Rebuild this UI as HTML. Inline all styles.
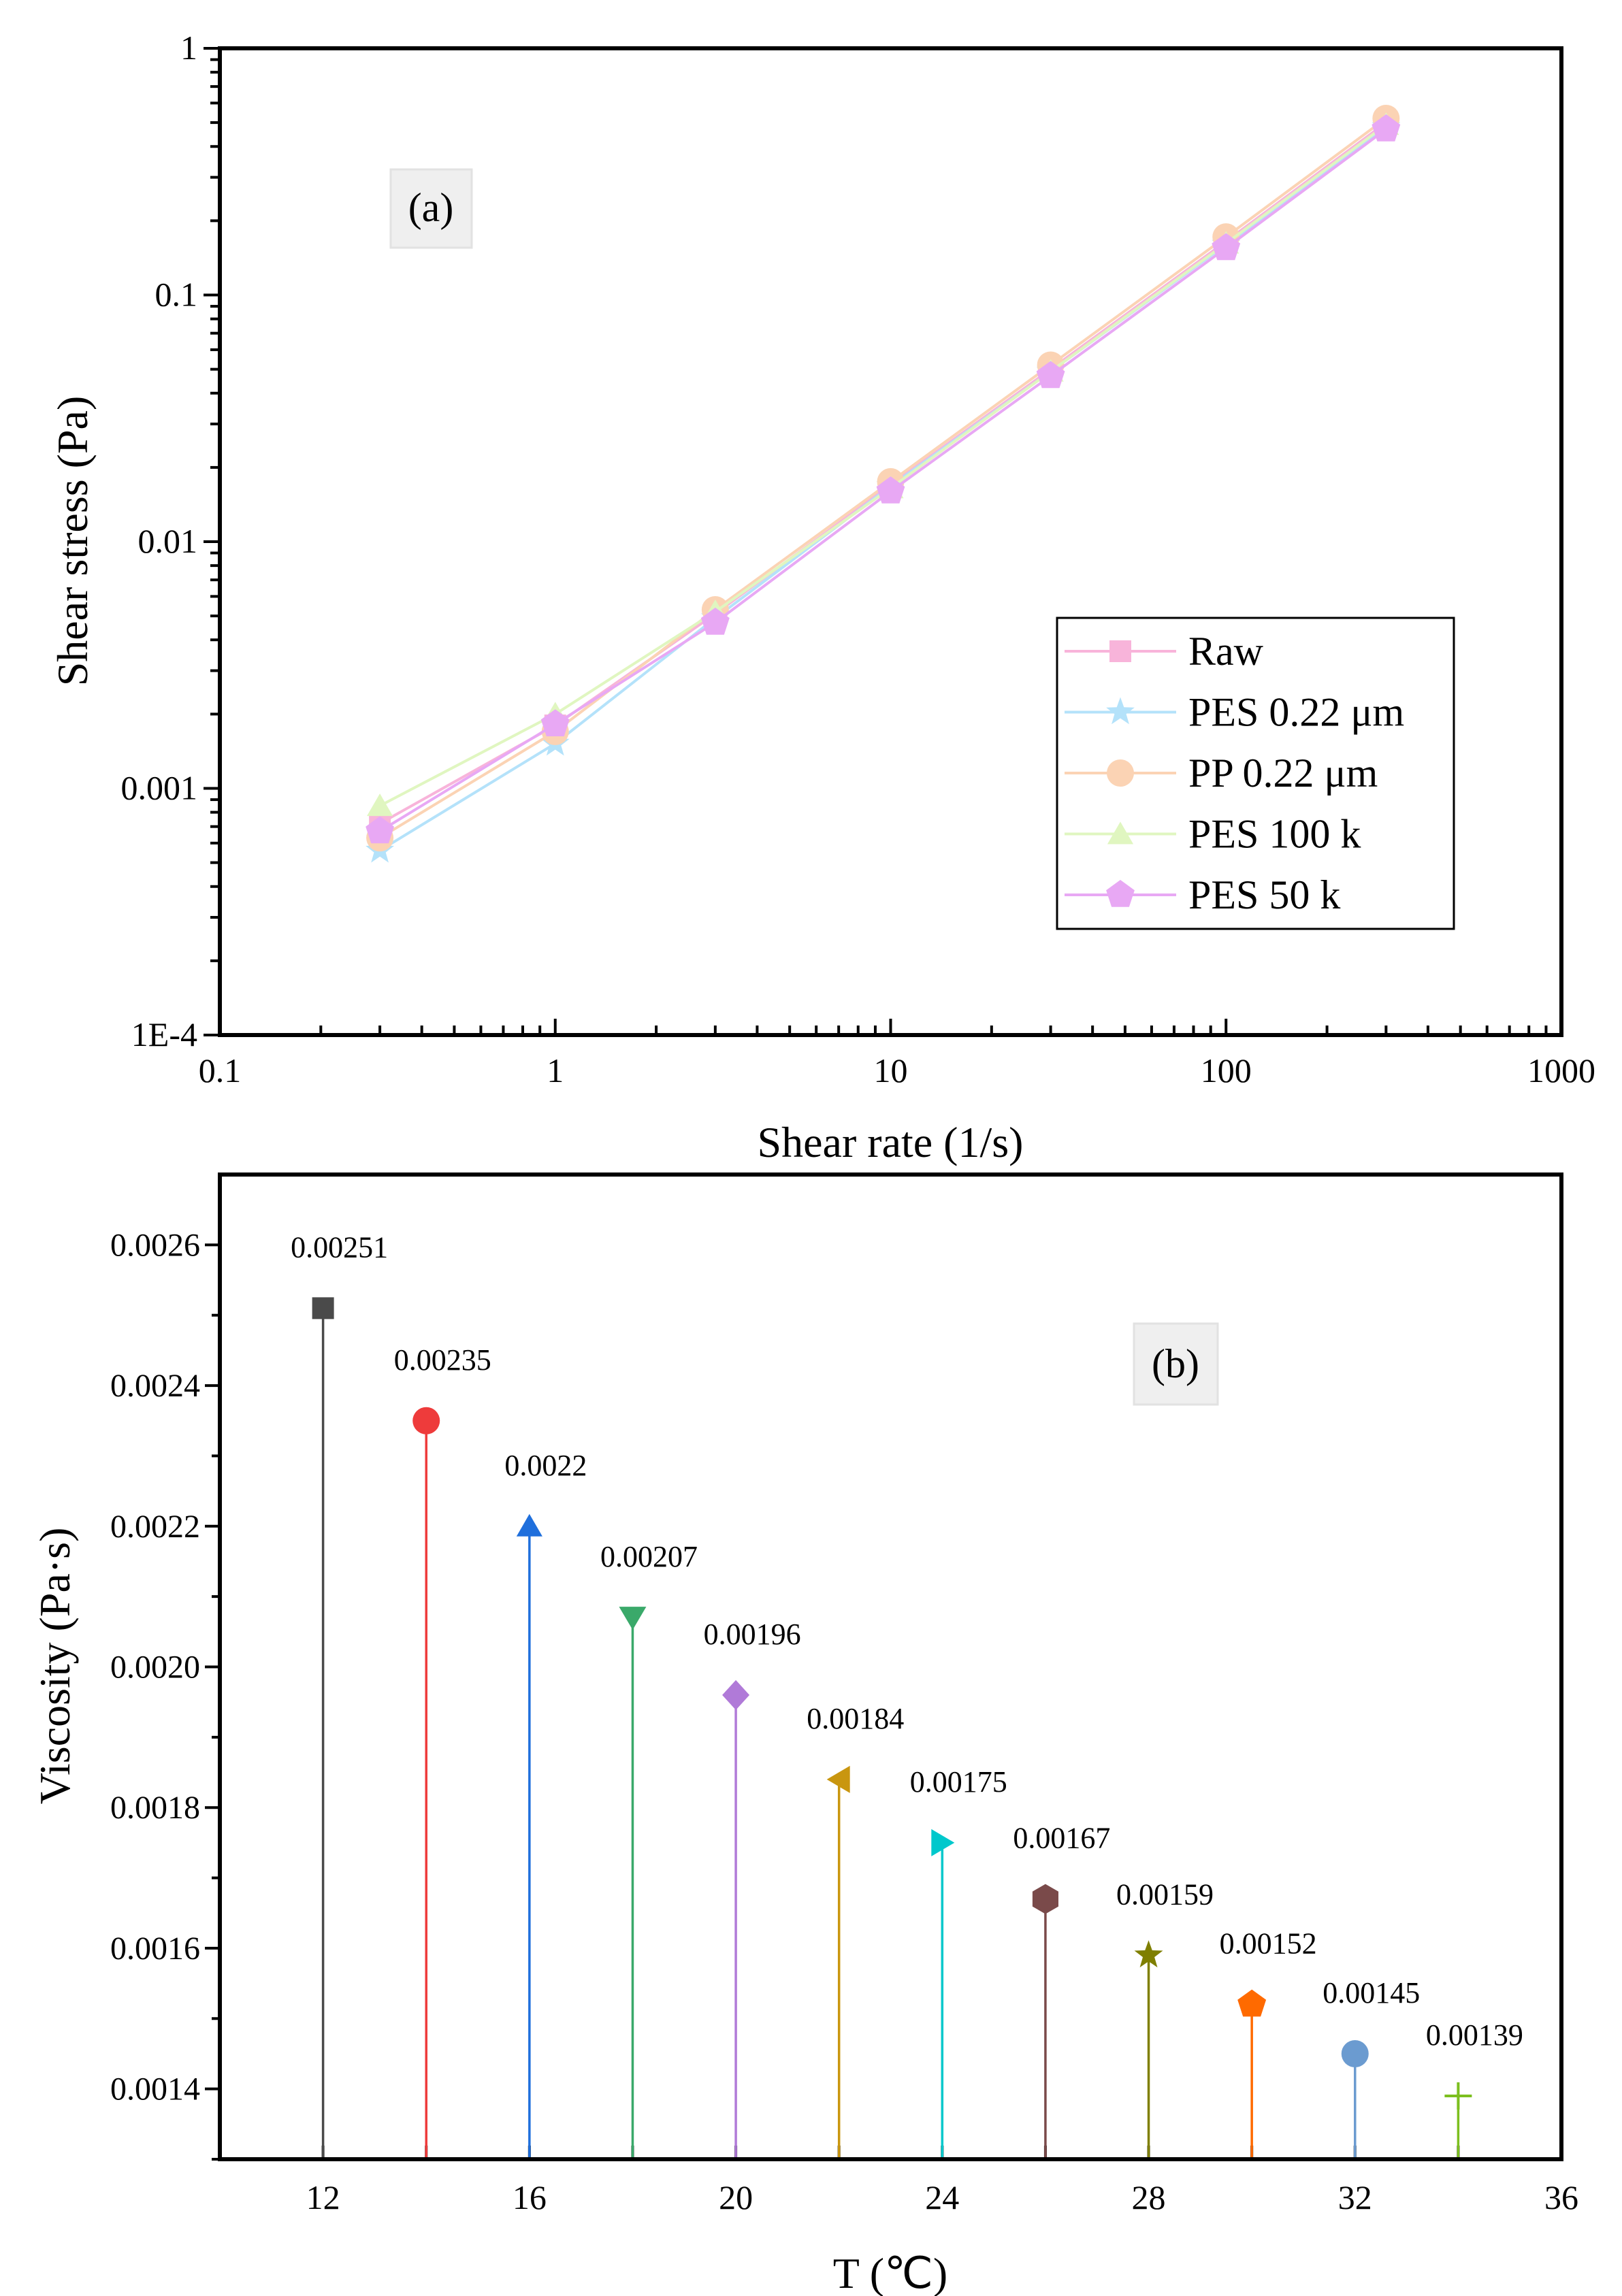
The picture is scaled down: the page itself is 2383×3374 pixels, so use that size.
<!DOCTYPE html>
<html><head><meta charset="utf-8"><style>
body{margin:0;background:#fff}
svg{display:block;font-family:"Liberation Serif",serif}
</style></head><body>
<svg id="c" width="2383" height="3374" viewBox="0 0 2383 3374">
<g id="pa"></g>
<g id="pb"></g>
</svg>
<script>
const shearRates=[0.3,1,3,10,30,100,300];
const seriesNames=["Raw","PES 0.22 μm","PP 0.22 μm","PES 100 k","PES 50 k"];
const rawVals=[0.00072,0.0018,0.0051,0.017,0.05,0.165,0.5];
const pes022Vals=[0.00056,0.00152,0.0049,0.0168,0.049,0.16,0.48];
const pp022Vals=[0.00063,0.0017,0.0053,0.0175,0.052,0.172,0.52];
const pes100Vals=[0.00085,0.002,0.0052,0.0165,0.049,0.162,0.49];
const pes50Vals=[0.00067,0.00182,0.0047,0.016,0.047,0.155,0.47];
const xTickLabelsA=["0.1","1","10","100","1000"];
const yTickLabelsA=["1E-4","0.001","0.01","0.1","1"];
const temps=[12,14,16,18,20,22,24,26,28,30,32,34];
const viscVals=[0.00251,0.00235,0.0022,0.00207,0.00196,0.00184,0.00175,0.00167,0.00159,0.00152,0.00145,0.00139];
const viscLabels=["0.00251","0.00235","0.0022","0.00207","0.00196","0.00184","0.00175","0.00167","0.00159","0.00152","0.00145","0.00139"];
const xTicksB=[12,16,20,24,28,32,36];
const yTicksB=["0.0014","0.0016","0.0018","0.0020","0.0022","0.0024","0.0026"];

const NS="http://www.w3.org/2000/svg";
function mk(p,t,a,txt){const e=document.createElementNS(NS,t);for(const k in a)e.setAttribute(k,a[k]);if(txt!==undefined)e.textContent=txt;p.appendChild(e);return e;}

// ---------- Panel A ----------
const A=document.getElementById('pa');
const L=323,R=2294,T=71,B=1521;
const xA=v=>L+(Math.log10(v)+1)/4*(R-L);
const yA=v=>B-(Math.log10(v)+4)/4*(B-T);
// minor ticks
for(let d=-1;d<3;d++)for(let m=2;m<10;m++){const x=xA(m*Math.pow(10,d));let e=mk(A,'line',{x1:x,x2:x,y1:B,y2:B-14,stroke:'#000','stroke-width':4});
}
for(let d=-4;d<0;d++)for(let m=2;m<10;m++){const y=yA(m*Math.pow(10,d));let e=mk(A,'line',{x1:L,x2:L-14,y1:y,y2:y,stroke:'#000','stroke-width':4});
}
xTickLabelsA.forEach((s,i)=>{const x=xA(parseFloat(s));let t=mk(A,'line',{x1:x,x2:x,y1:B,y2:B-24,stroke:'#000','stroke-width':4});

let e=mk(A,'text',{x:x,y:1590,'font-size':50,'text-anchor':'middle'},s);
});
yTickLabelsA.forEach((s,i)=>{const y=yA(parseFloat(s));let t=mk(A,'line',{x1:L,x2:L-24,y1:y,y2:y,stroke:'#000','stroke-width':4});

let e=mk(A,'text',{x:290,y:y+16,'font-size':50,'text-anchor':'end'},s);
});
let fa=mk(A,'rect',{x:L,y:T,width:R-L,height:B-T,fill:'none',stroke:'#000','stroke-width':6});

let xt=mk(A,'text',{x:1308,y:1700,'font-size':64,'text-anchor':'middle'},'Shear rate (1/s)');

let yt=mk(A,'text',{x:0,y:0,'font-size':64,'text-anchor':'middle',transform:'translate(128,795) rotate(-90)'},'Shear stress (Pa)');

let lb=mk(A,'rect',{x:574,y:249,width:119,height:115,fill:'#efefef',stroke:'#e2e2e2','stroke-width':3});

let lt=mk(A,'text',{x:633,y:325,'font-size':60,'text-anchor':'middle'},'(a)');


const colors=["#f8b4da","#b4e2fa","#fbd3b4","#e0f6c0","#e8a8f4"];
const shapes=["square","star","circle","triangle","pentagon"];
function marker(p,shape,x,y,r,col){
  let e;
  if(shape==="square")e=mk(p,'rect',{x:x-r*0.8,y:y-r*0.8,width:r*1.6,height:r*1.6,fill:col});
  else if(shape==="circle")e=mk(p,'circle',{cx:x,cy:y,r:r,fill:col});
  else{let n=shape==="triangle"?3:shape==="pentagon"?5:shape==="hexagon"?6:5;let pts=[];
    if(shape==="star"){for(let i=0;i<10;i++){const a=-Math.PI/2+i*Math.PI/5;const rr=i%2?r*0.45:r*1.1;pts.push((x+rr*Math.cos(a)).toFixed(1)+','+(y+rr*Math.sin(a)).toFixed(1));}}
    else{let off=shape==="hexagon"?-Math.PI/2:-Math.PI/2;for(let i=0;i<n;i++){const a=off+i*2*Math.PI/n;pts.push((x+r*1.1*Math.cos(a)).toFixed(1)+','+(y+r*1.1*Math.sin(a)+(n===3?r*0.2:0)).toFixed(1));}}
    e=mk(p,'polygon',{points:pts.join(' '),fill:col});}
  return e;
}
const allSeries=[rawVals,pes022Vals,pp022Vals,pes100Vals,pes50Vals];
allSeries.forEach((vals,s)=>{
  const d=vals.map((v,i)=>(i?'L':'M')+xA(shearRates[i]).toFixed(1)+','+yA(v).toFixed(1)).join('');
  let ln=mk(A,'path',{d:d,fill:'none',stroke:colors[s],'stroke-width':4});
  
  vals.forEach((v,i)=>{let m=marker(A,shapes[s],xA(shearRates[i]),yA(v),20,colors[s]);
    });
});
let lg=mk(A,'rect',{x:1553,y:908,width:583,height:457,fill:'#fff',stroke:'#000','stroke-width':3});

seriesNames.forEach((n,s)=>{const y=957+s*89.5;
  let l=mk(A,'line',{x1:1564,x2:1728,y1:y,y2:y,stroke:colors[s],'stroke-width':4});
  
  let m=marker(A,shapes[s],1646,y,20,colors[s]);
  
  let t=mk(A,'text',{x:1746,y:y+20,'font-size':60},n);
  });

// ---------- Panel B ----------
const P=document.getElementById('pb');
const L2=323,R2=2294,T2=1726,B2=3173;
const xB=v=>L2+(v-10)/26*(R2-L2);
const yB=v=>B2-(v-0.0013)/0.0014*(B2-T2);
for(let k=0;k<14;k++){const v=0.0013+k*0.0001;const y=yB(v);const major=(k%2===1);
  let t=mk(P,'line',{x1:L2,x2:L2-(major?22:12),y1:y,y2:y,stroke:'#000','stroke-width':4});
  }
yTicksB.forEach(s=>{const y=yB(parseFloat(s));
  let e=mk(P,'text',{x:294,y:y+16,'font-size':48,'text-anchor':'end'},s);
  });
for(let v=12;v<=34;v+=2){const x=xB(v);let t=mk(P,'line',{x1:x,x2:x,y1:B2,y2:B2-20,stroke:'#000','stroke-width':4});
  }
xTicksB.forEach(v=>{let e=mk(P,'text',{x:xB(v),y:3246,'font-size':50,'text-anchor':'middle'},String(v));
  });
const bcol=["#4a4a4a","#ee3b3b","#1f6fdc","#3aa96a","#b07ad8","#c9960f","#00c8cc","#7a4a4a","#7f7f00","#ff6a00","#6b9bd0","#7cbf1f"];
const bshape=["square","circle","triangle","down","diamond","left","right","hexagon","star","pentagon","circle","plus"];
temps.forEach((tv,i)=>{const x=xB(tv),y=yB(viscVals[i]),c=bcol[i];
  let st=mk(P,'line',{x1:x,x2:x,y1:B2,y2:y,stroke:c,'stroke-width':3.5});
  
  let m,sh=bshape[i],r=20;
  if(sh==="down")m=mk(P,'polygon',{points:`${x-r},${y-r*0.8} ${x+r},${y-r*0.8} ${x},${y+r*0.9}`,fill:c});
  else if(sh==="diamond")m=mk(P,'polygon',{points:`${x},${y-r*1.1} ${x+r},${y} ${x},${y+r*1.1} ${x-r},${y}`,fill:c});
  else if(sh==="left")m=mk(P,'polygon',{points:`${x-r*0.9},${y} ${x+r*0.8},${y-r} ${x+r*0.8},${y+r}`,fill:c});
  else if(sh==="right")m=mk(P,'polygon',{points:`${x+r*0.9},${y} ${x-r*0.8},${y-r} ${x-r*0.8},${y+r}`,fill:c});
  else if(sh==="plus")m=mk(P,'path',{d:`M${x-r},${y}H${x+r}M${x},${y-r}V${y+r}`,stroke:c,'stroke-width':4});
  else m=marker(P,sh,x,y,r,c);
  
  let lbl=mk(P,'text',{x:x+24,y:y-75,'font-size':44,'text-anchor':'middle'},viscLabels[i]);
  
});
let fb=mk(P,'rect',{x:L2,y:T2,width:R2-L2,height:B2-T2,fill:'none',stroke:'#000','stroke-width':6});

let xt2=mk(P,'text',{x:1308,y:3362,'font-size':64,'text-anchor':'middle'},'T (℃)');

let yt2=mk(P,'text',{x:0,y:0,'font-size':64,'text-anchor':'middle',transform:'translate(102,2448) rotate(-90)'},'Viscosity (Pa·s)');

let lb2=mk(P,'rect',{x:1666,y:1945,width:123,height:119,fill:'#efefef',stroke:'#e2e2e2','stroke-width':3});

let lt2=mk(P,'text',{x:1727,y:2024,'font-size':60,'text-anchor':'middle'},'(b)');

</script>
</body></html>
